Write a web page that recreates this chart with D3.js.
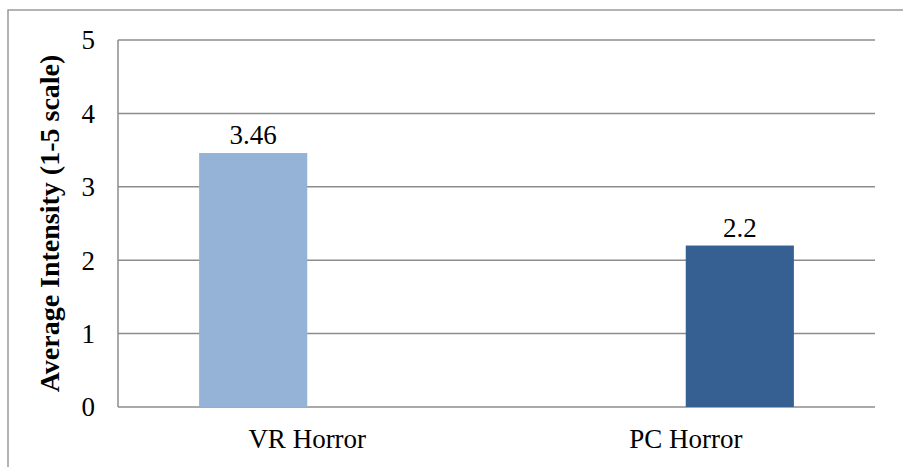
<!DOCTYPE html>
<html>
<head>
<meta charset="utf-8">
<script src="https://cdn.jsdelivr.net/npm/d3@7"></script>
<style>
  body { margin: 0; background: #fff; }
  text { font-family: "Liberation Serif", "Times New Roman", serif; fill: #000; }
</style>
</head>
<body>
<script>
// chart data
const categories = ['VR Horror', 'PC Horror']
const seriesNames = ['VR', 'PC']
const vrValues = [3.46, null]
const pcValues = [null, 2.2]
const yTicks = [0, 1, 2, 3, 4, 5]
const yTitle = 'Average Intensity (1-5 scale)'

const colors = { VR: '#95b3d7', PC: '#376092' }

const W = 903, H = 467
const m = { left: 118, right: 28, top: 40, bottom: 60 }

const svg = d3.select('body').append('svg')
    .attr('width', W)
    .attr('height', H)

// outer chart border (runs off the page on right and bottom)
svg.append('rect')
    .attr('x', 8).attr('y', 10)
    .attr('width', W).attr('height', H)
    .attr('fill', 'none')
    .attr('stroke', '#9a9a9a')
    .attr('stroke-width', 1.5)

const x = d3.scaleBand()
    .domain(categories)
    .range([m.left, W - m.right])

// Excel style: 2 series, gap width 150% => bar = band / 3.5
const barW = x.bandwidth() / 3.5
const xs = d3.scaleBand()
    .domain(seriesNames)
    .range([0.75 * barW, 2.75 * barW])

const y = d3.scaleLinear()
    .domain([0, 5])
    .range([H - m.bottom, m.top])

const g = svg.append('g')

// gridlines
g.selectAll('.grid')
    .data(yTicks)
    .enter()
    .append('line')
        .attr('x1', m.left)
        .attr('x2', W - m.right)
        .attr('y1', d => y(d))
        .attr('y2', d => y(d))
        .attr('stroke', '#8c8c8c')
        .attr('stroke-width', 1.5)

// vertical axis line
g.append('line')
    .attr('x1', m.left).attr('x2', m.left)
    .attr('y1', y(0)).attr('y2', y(5))
    .attr('stroke', '#8c8c8c')
    .attr('stroke-width', 1.5)

// y tick labels
g.selectAll('.ytick')
    .data(yTicks)
    .enter()
    .append('text')
        .attr('x', m.left - 23)
        .attr('y', d => y(d))
        .attr('dy', '0.35em')
        .attr('text-anchor', 'end')
        .style('font-size', '27px')
        .text(d => d)

// bars
const series = [
    { name: 'VR', values: vrValues },
    { name: 'PC', values: pcValues }
]

series.forEach(function(s) {
    const pts = categories
        .map((c, i) => ({ cat: c, v: s.values[i] }))
        .filter(d => d.v != null)

    g.selectAll('.bar-' + s.name)
        .data(pts)
        .enter()
        .append('rect')
            .attr('x', d => x(d.cat) + xs(s.name))
            .attr('y', d => y(d.v))
            .attr('width', xs.bandwidth())
            .attr('height', d => y(0) - y(d.v))
            .attr('fill', colors[s.name])

    g.selectAll('.lbl-' + s.name)
        .data(pts)
        .enter()
        .append('text')
            .attr('x', d => x(d.cat) + xs(s.name) + xs.bandwidth() / 2)
            .attr('y', d => y(d.v) - 9)
            .attr('text-anchor', 'middle')
            .style('font-size', '27px')
            .text(d => d.v)
})

// category labels
g.selectAll('.xlab')
    .data(categories)
    .enter()
    .append('text')
        .attr('x', d => x(d) + x.bandwidth() / 2)
        .attr('y', 448)
        .attr('text-anchor', 'middle')
        .style('font-size', '27px')
        .text(d => d)

// y axis title
svg.append('text')
    .attr('transform', 'translate(59,' + (y(0) + y(5)) / 2 + ') rotate(-90)')
    .attr('text-anchor', 'middle')
    .style('font-size', '28px')
    .style('font-weight', 'bold')
    .text(yTitle)
</script>
</body>
</html>
